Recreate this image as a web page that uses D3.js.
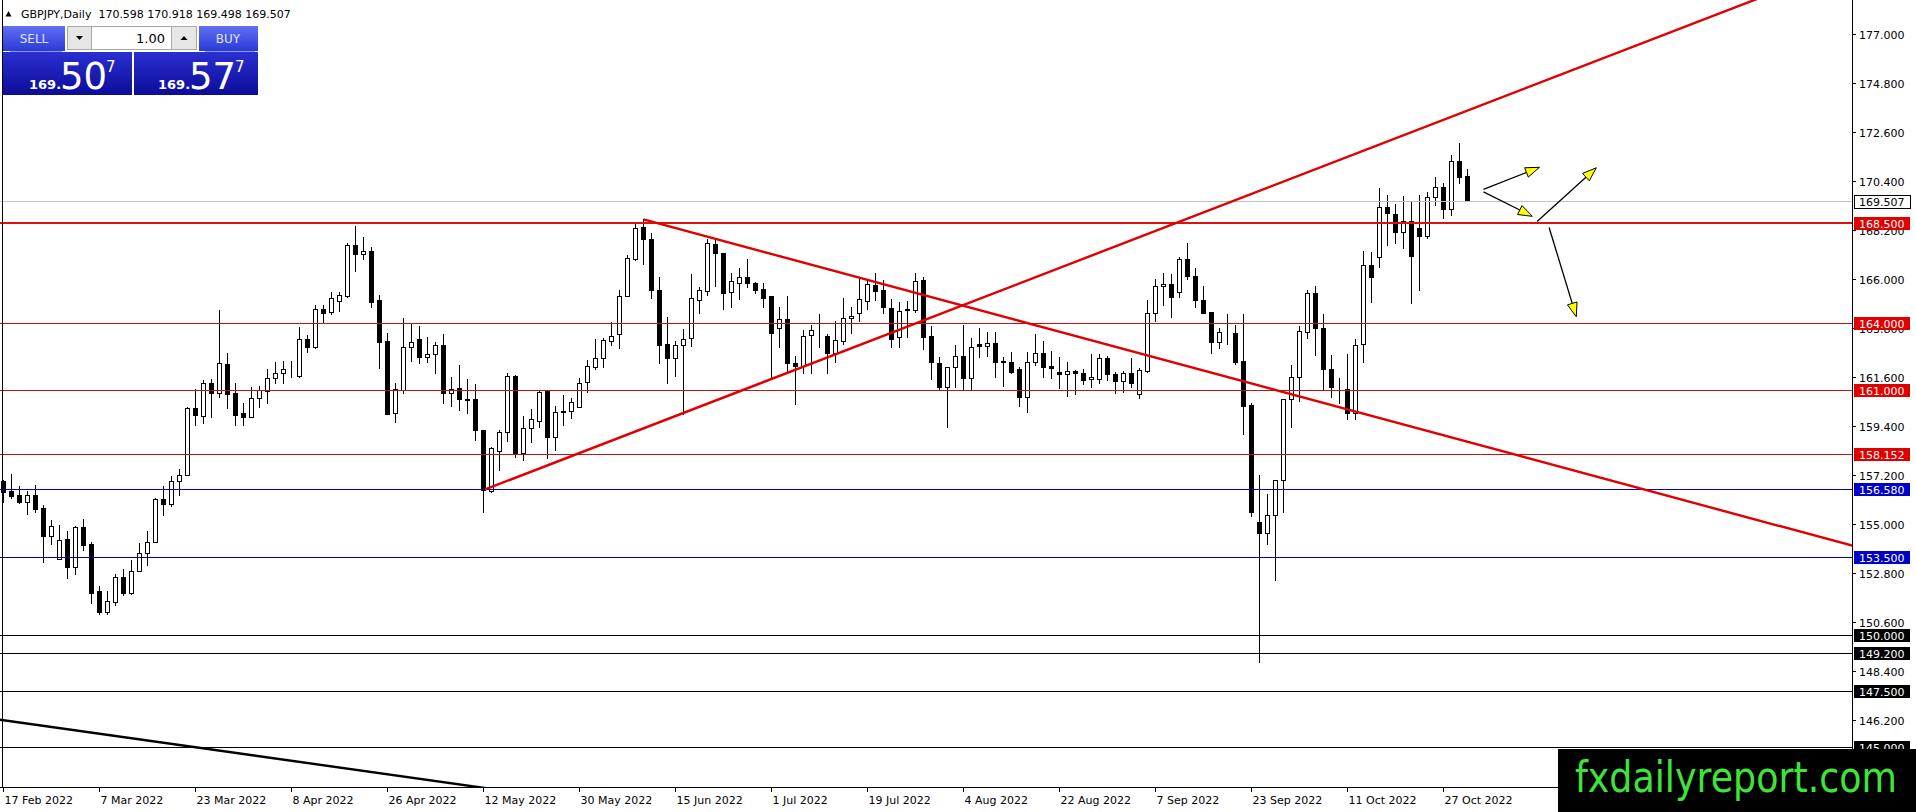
<!DOCTYPE html>
<html>
<head>
<meta charset="utf-8">
<script src="https://cdn.jsdelivr.net/npm/d3@7"></script>
<style>
html, body { margin: 0; padding: 0; background: #fff; }
svg { display: block; }
text { font-family: "DejaVu Sans", Verdana, sans-serif; }
</style>
</head>
<body>
<svg id="chart" width="1916" height="812"></svg>
<script>
// ---- data ----
const symbol = "GBPJPY,Daily";
const firstDay = new Date(2022, 1, 17);

const open = [156.91,156.46,156.31,155.99,156.27,155.70,154.47,153.40,154.31,153.08,154.85,154.08,151.96,151.06,151.49,152.59,151.90,152.90,153.67,154.19,
  156.11,155.90,156.90,157.21,160.18,159.85,161.30,160.88,162.17,160.85,159.98,159.80,160.63,160.98,161.52,161.75,161.99,161.64,163.28,162.92,
  164.62,164.50,164.98,165.24,167.51,167.09,167.24,165.04,163.20,159.95,161.00,162.95,163.29,162.50,162.60,163.02,160.85,161.08,160.58,160.58,
  159.23,156.48,158.26,159.10,161.63,158.16,159.28,159.59,160.96,158.90,160.03,160.04,160.22,161.37,162.05,162.42,163.22,163.50,165.21,166.88,
  168.30,167.77,165.49,163.05,162.45,163.02,163.32,165.04,165.46,167.56,167.14,165.39,165.79,166.09,165.82,165.52,165.22,163.77,164.17,162.23,
  162.08,163.47,163.38,163.43,162.65,163.20,164.22,164.44,165.01,165.72,165.49,164.67,163.40,164.60,164.59,165.94,163.43,162.20,161.15,162.02,
  162.54,161.52,163.07,162.99,163.10,162.27,162.27,161.93,160.67,162.27,162.65,162.08,161.82,161.70,161.87,161.75,161.49,161.48,162.45,161.72,
  161.42,161.78,160.81,161.87,164.44,165.67,165.76,165.42,166.87,166.12,165.04,164.52,163.14,163.54,163.55,162.30,160.33,155.09,154.59,155.37,
  156.96,160.58,161.60,163.62,165.34,163.77,161.93,161.03,161.03,159.95,163.05,166.61,166.96,169.20,168.90,168.11,168.59,168.26,167.93,169.65,
  170.13,169.11,171.30,170.598];
const high = [156.96,157.23,156.69,156.46,156.73,155.84,155.16,154.94,154.67,154.89,155.21,154.17,152.20,151.96,152.74,152.96,153.37,154.13,154.67,156.15,
  156.69,157.15,157.45,160.25,161.03,161.45,161.51,164.59,162.68,161.30,160.43,161.15,161.20,161.93,162.24,162.32,162.32,163.81,163.47,164.82,
  164.82,165.42,165.42,167.59,168.36,167.86,167.44,165.27,163.55,161.34,164.22,163.96,163.87,163.37,163.14,163.50,161.60,162.12,161.49,161.27,
  159.23,158.46,159.23,161.78,161.67,159.83,160.15,160.96,160.96,160.28,160.78,160.63,161.52,162.35,163.29,163.35,164.07,165.49,167.06,168.51,
  168.66,168.04,166.06,164.26,163.22,163.74,166.21,165.61,167.77,167.77,167.17,166.24,166.46,166.87,165.85,165.79,165.22,164.71,165.22,162.53,
  163.69,163.92,164.41,163.52,164.11,165.12,164.71,166.09,165.94,166.24,165.94,165.07,164.97,165.01,166.27,166.09,163.87,162.50,162.05,163.02,
  163.92,163.32,163.77,163.62,163.59,162.47,162.72,162.05,162.69,163.50,163.20,162.77,162.50,162.24,161.90,161.93,162.62,162.62,162.53,161.82,
  161.87,162.42,161.97,165.04,165.97,166.24,166.21,166.96,167.59,166.46,165.67,164.52,163.77,164.41,163.92,164.41,160.40,157.18,156.33,156.96,
  160.58,162.12,163.87,165.49,165.67,164.41,162.57,161.52,162.62,163.28,167.24,167.21,170.06,169.76,169.35,169.71,169.50,169.76,169.91,170.58,
  170.28,171.55,172.08,170.918];
const low = [155.99,156.17,155.94,155.45,155.54,153.29,154.08,153.40,152.57,152.75,153.80,151.42,150.97,150.93,151.37,151.82,151.85,152.90,153.17,154.16,
  155.40,155.81,156.30,157.18,159.43,159.53,159.80,160.70,160.21,159.43,159.43,159.77,160.22,160.43,161.33,161.33,161.60,161.60,162.72,162.89,
  163.99,164.40,164.56,165.16,166.36,166.90,164.74,162.00,159.91,159.58,160.85,162.32,162.23,162.27,161.75,160.40,160.28,160.10,159.98,158.76,
  155.54,156.43,157.41,158.73,158.01,157.86,158.68,159.36,157.93,158.31,159.43,159.73,160.22,160.90,161.93,162.05,163.02,162.87,165.21,166.84,
  166.64,165.12,162.20,161.30,161.64,159.92,162.98,164.44,165.27,165.67,164.62,164.74,165.07,165.64,165.34,164.74,161.52,162.95,161.75,160.37,
  161.75,161.75,162.95,161.78,162.27,163.07,163.57,164.11,164.62,165.04,164.44,162.95,162.95,163.40,164.52,162.83,161.48,161.00,159.35,161.15,
  161.07,161.07,162.50,162.53,161.60,161.18,161.75,160.30,160.03,162.12,161.60,161.55,161.11,160.75,160.81,161.26,161.15,161.33,161.45,160.85,
  160.93,161.12,160.63,161.82,164.11,164.82,164.26,165.16,165.97,164.71,164.44,162.68,162.87,163.07,162.17,159.05,155.34,148.80,154.11,152.47,
  155.54,159.35,160.52,163.36,162.57,161.03,160.70,160.40,159.68,159.68,162.27,164.97,166.51,167.51,167.59,167.36,164.92,165.49,167.81,169.31,
  168.71,168.86,170.31,169.498];
const close = [156.43,156.25,155.99,156.27,155.67,154.46,154.88,154.29,153.08,154.85,154.05,151.90,151.05,151.51,152.59,151.90,152.90,153.67,154.20,156.11,
  155.90,156.94,157.21,160.18,159.88,161.30,160.88,162.20,160.84,159.89,159.80,160.64,161.00,161.52,161.75,161.96,162.00,163.28,162.92,164.62,
  164.47,165.12,165.25,167.51,167.11,167.23,164.97,163.17,159.94,161.03,162.93,163.14,162.50,162.62,163.02,160.85,161.03,160.58,160.56,159.20,
  156.51,158.38,159.10,161.63,158.16,159.28,159.68,160.93,158.90,160.03,160.08,160.48,161.33,162.08,162.42,163.25,163.41,165.21,166.91,168.26,
  167.77,165.49,163.02,162.45,163.02,163.28,165.12,165.49,167.59,167.14,165.37,165.91,166.09,165.79,165.49,165.15,163.55,164.17,162.23,162.08,
  163.44,163.69,163.40,162.65,163.25,164.22,164.32,165.07,165.76,165.46,164.74,163.28,164.55,164.62,165.91,163.40,162.27,161.15,162.02,162.54,
  161.52,162.92,162.99,163.10,162.27,162.29,161.82,160.67,162.27,162.65,162.05,161.97,161.70,161.87,161.75,161.45,161.57,162.42,161.70,161.42,
  161.78,161.33,161.90,164.44,165.67,165.76,165.16,166.87,166.12,165.04,164.47,163.17,163.59,163.55,162.27,160.30,155.54,154.59,155.37,156.96,
  160.58,161.57,163.65,165.34,163.77,161.93,161.12,161.04,159.95,163.02,166.61,166.06,169.20,168.93,168.11,168.59,167.03,167.93,169.65,170.13,
  169.11,171.30,170.55,169.507];

const priceTicks = [177.0, 174.8, 172.6, 170.4, 168.2, 166.0, 163.8, 161.6, 159.4, 157.2, 155.0, 152.8, 150.6, 148.4, 146.2];
const labelEvery = 12;

const bidPrice = 169.507;
const askPrice = 169.577;
const lotSize = "1.00";

const redLevels = [168.5, 164.0, 161.0, 158.152];
const blueLevels = [156.58, 153.5];
const blackLevels = [150.0, 149.2, 147.5, 145.0];

// trend lines as [bar index, price] anchor pairs
const upTrend = [[60.2, 156.54], [174.0, 172.30]];
const downTrend = [[80.0, 168.66], [177.3, 159.23]];
const oldTrend = [[0.0, 146.18], [60.3, 143.13]];

// hand drawn arrows: tail and head as [bar index, price]
const arrowTails = [[185.0, 170.01], [185.0, 169.90], [191.7, 168.57], [193.2, 168.30]];
const arrowHeads = [[192.0, 171.00], [191.1, 168.80], [199.1, 170.98], [196.6, 164.29]];

// ---- layout ----
const plotR = 1852, plotB = 788;

const dates = d3.timeDays(firstDay, new Date(2022, 10, 2)).filter(d => d.getDay() % 6 !== 0).slice(0, open.length);
const fmtDate = d3.timeFormat("%-d %b %Y");
const f3 = d3.format(".3f");

const x = d3.scaleLinear().domain([0, open.length - 1]).range([3.5, 3.5 + 8 * (open.length - 1)]);
const y = d3.scaleLinear().domain([145, 168.5]).range([746.5, 223]);

const svg = d3.select("#chart");
const defs = svg.append("defs");
defs.append("clipPath").attr("id", "plotClip")
  .append("rect").attr("x", 0).attr("y", 0).attr("width", plotR).attr("height", plotB);

const btnGrad = defs.append("linearGradient").attr("id", "btnBlue").attr("x1", 0).attr("y1", 0).attr("x2", 0).attr("y2", 1);
btnGrad.append("stop").attr("offset", "0%").attr("stop-color", "#6070f4");
btnGrad.append("stop").attr("offset", "100%").attr("stop-color", "#2c3ad6");
const boxGrad = defs.append("linearGradient").attr("id", "boxBlue").attr("x1", 0).attr("y1", 0).attr("x2", 0).attr("y2", 1);
boxGrad.append("stop").attr("offset", "0%").attr("stop-color", "#2a30d0");
boxGrad.append("stop").attr("offset", "100%").attr("stop-color", "#0c0c98");

const plot = svg.append("g").attr("clip-path", "url(#plotClip)");

// candles
const bars = d3.range(open.length).map(i => ({ i, o: open[i], h: high[i], l: low[i], c: close[i] }));
const cg = plot.append("g").attr("shape-rendering", "crispEdges");
cg.selectAll("line").data(bars).join("line")
  .attr("x1", d => x(d.i)).attr("x2", d => x(d.i))
  .attr("y1", d => Math.round(y(d.h))).attr("y2", d => Math.round(y(d.l)) + 1)
  .attr("stroke", "#000");
cg.selectAll("rect").data(bars).join("rect")
  .each(function(d) {
    const r = d3.select(this);
    if (d.c >= d.o) {
      const t = Math.round(y(d.c)) + 0.5, b = Math.round(y(d.o)) + 0.5;
      r.attr("x", x(d.i) - 2).attr("width", 4).attr("y", t).attr("height", Math.max(0, b - t))
        .attr("fill", "#fff").attr("stroke", "#000");
    } else {
      const t = Math.round(y(d.o)), b = Math.round(y(d.c)) + 1;
      r.attr("x", x(d.i) - 2.5).attr("width", 5).attr("y", t).attr("height", Math.max(1, b - t))
        .attr("fill", "#000");
    }
  });

// horizontal levels
const lg = plot.append("g").attr("shape-rendering", "crispEdges");
function hline(p, color, w) {
  const yy = w === 2 ? Math.round(y(p)) : Math.round(y(p)) + 0.5;
  lg.append("line").attr("x1", 0).attr("x2", plotR).attr("y1", yy).attr("y2", yy)
    .attr("stroke", color).attr("stroke-width", w);
}
hline(bidPrice, "#c0c0c0", 1);
redLevels.forEach((p, k) => hline(p, k === 0 ? "#e01010" : "#cc1010", k === 0 ? 2 : 1));
blueLevels.forEach(p => hline(p, "#0000c8", 1));
blackLevels.forEach(p => hline(p, "#000", 1));

// trend lines extended as rays to the right
function ray(pts, color, extendLeft) {
  const [[i1, p1], [i2, p2]] = pts;
  const s = (p2 - p1) / (i2 - i1);
  const a = extendLeft ? -10 : i1, b = 260;
  plot.append("line")
    .attr("x1", x(a)).attr("y1", y(p1 + s * (a - i1)))
    .attr("x2", x(b)).attr("y2", y(p1 + s * (b - i1)))
    .attr("stroke", color).attr("stroke-width", 2.4);
}
ray(upTrend, "#e00000", false);
ray(downTrend, "#e00000", false);
ray(oldTrend, "#000", true);

// arrows
const ag = svg.append("g");
arrowTails.forEach((t, k) => {
  const h = arrowHeads[k];
  const x1 = x(t[0]), y1 = y(t[1]), x2 = x(h[0]), y2 = y(h[1]);
  const ang = Math.atan2(y2 - y1, x2 - x1), len = 14, hw = 5;
  const bx = x2 - len * Math.cos(ang), by = y2 - len * Math.sin(ang);
  ag.append("line").attr("x1", x1).attr("y1", y1).attr("x2", bx).attr("y2", by)
    .attr("stroke", "#000").attr("stroke-width", 1.3);
  ag.append("path")
    .attr("d", `M${x2},${y2}L${bx + hw * Math.sin(ang)},${by - hw * Math.cos(ang)}L${bx - hw * Math.sin(ang)},${by + hw * Math.cos(ang)}Z`)
    .attr("fill", "#ffff00").attr("stroke", "#000").attr("stroke-width", 1);
});

// frame
const fg = svg.append("g").attr("shape-rendering", "crispEdges");
fg.append("line").attr("x1", 2.5).attr("x2", 2.5).attr("y1", 0).attr("y2", plotB).attr("stroke", "#000");
fg.append("line").attr("x1", plotR + 0.5).attr("x2", plotR + 0.5).attr("y1", 0).attr("y2", plotB).attr("stroke", "#000");
fg.append("line").attr("x1", 0).attr("x2", plotR + 1).attr("y1", plotB - 0.5).attr("y2", plotB - 0.5).attr("stroke", "#000");

// price axis
const pa = svg.append("g");
priceTicks.forEach(p => {
  const yy = Math.round(y(p)) + 0.5;
  pa.append("line").attr("x1", plotR).attr("x2", plotR + 4).attr("y1", yy).attr("y2", yy)
    .attr("stroke", "#000").attr("shape-rendering", "crispEdges");
  pa.append("text").attr("x", 1859).attr("y", yy + 4).attr("font-size", 11).attr("fill", "#000").text(f3(p));
});

function tag(p, bg, fg, border) {
  const yy = Math.round(y(p));
  pa.append("rect").attr("x", 1854).attr("y", yy - 6).attr("width", 56).attr("height", 13)
    .attr("fill", bg).attr("stroke", border || "none").attr("shape-rendering", "crispEdges");
  pa.append("text").attr("x", 1859).attr("y", yy + 4.5).attr("font-size", 11).attr("fill", fg).text(f3(p));
}
tag(bidPrice, "#fff", "#000", "#000");
redLevels.forEach(p => tag(p, "#e00000", "#fff"));
blueLevels.forEach(p => tag(p, "#0000c8", "#fff"));
blackLevels.forEach(p => tag(p, "#000", "#fff"));

// time axis
const ta = svg.append("g");
dates.forEach((d, i) => {
  if (i % labelEvery !== 0) return;
  ta.append("line").attr("x1", x(i)).attr("x2", x(i)).attr("y1", plotB).attr("y2", plotB + 4)
    .attr("stroke", "#000").attr("shape-rendering", "crispEdges");
  ta.append("text").attr("x", x(i) + 1).attr("y", 804).attr("font-size", 11).attr("fill", "#000").text(fmtDate(d));
});

// header
const last = open.length - 1;
svg.append("path").attr("d", "M5.5,16.5L11.5,16.5L8.5,11Z").attr("fill", "#000");
svg.append("text").attr("x", 21).attr("y", 18).attr("font-size", 11).attr("fill", "#000")
  .attr("xml:space", "preserve")
  .text(`${symbol}  ${f3(open[last])} ${f3(high[last])} ${f3(low[last])} ${f3(close[last])}`);

// one-click trading panel
const sans = "'Liberation Sans', Arial, sans-serif";
const pn = svg.append("g");
pn.append("rect").attr("x", 3).attr("y", 26).attr("width", 62).attr("height", 25).attr("fill", "url(#btnBlue)");
pn.append("rect").attr("x", 199).attr("y", 26).attr("width", 59).attr("height", 25).attr("fill", "url(#btnBlue)");
pn.append("text").attr("x", 34).attr("y", 43).attr("text-anchor", "middle").attr("font-size", 12)
  .attr("font-family", sans).attr("fill", "#dde4ff").text("SELL");
pn.append("text").attr("x", 228).attr("y", 43).attr("text-anchor", "middle").attr("font-size", 12)
  .attr("font-family", sans).attr("fill", "#dde4ff").text("BUY");
pn.append("rect").attr("x", 67.5).attr("y", 26.5).attr("width", 24).attr("height", 23)
  .attr("fill", "#e6e6e6").attr("stroke", "#a8a8a8");
pn.append("rect").attr("x", 91.5).attr("y", 26.5).attr("width", 80).attr("height", 23)
  .attr("fill", "#fff").attr("stroke", "#a8a8a8");
pn.append("rect").attr("x", 171.5).attr("y", 26.5).attr("width", 25).attr("height", 23)
  .attr("fill", "#e6e6e6").attr("stroke", "#a8a8a8");
pn.append("path").attr("d", "M76,36L83,36L79.5,40Z").attr("fill", "#000");
pn.append("path").attr("d", "M180.5,40L187.5,40L184,36Z").attr("fill", "#000");
pn.append("text").attr("x", 165).attr("y", 43).attr("text-anchor", "end").attr("font-size", 13)
  .attr("font-family", sans).attr("fill", "#000").text(lotSize);
pn.append("line").attr("x1", 10).attr("x2", 62).attr("y1", 51.5).attr("y2", 51.5).attr("stroke", "#8898f8");
pn.append("line").attr("x1", 205).attr("x2", 255).attr("y1", 51.5).attr("y2", 51.5).attr("stroke", "#8898f8");

function priceBox(px, w, price, off) {
  pn.append("rect").attr("x", px).attr("y", 52).attr("width", w).attr("height", 43).attr("fill", "url(#boxBlue)");
  const s = f3(price);
  const big = s.split(".")[0], frac = s.split(".")[1];
  const t = pn.append("g").attr("fill", "#fff").attr("font-family", sans);
  t.append("text").attr("x", px + off).attr("y", 89).attr("font-size", 13).attr("font-weight", "bold").text(big + ".");
  t.append("text").attr("x", px + off + 31).attr("y", 89).attr("font-size", 37).text(frac.slice(0, 2));
  t.append("text").attr("x", px + off + 77).attr("y", 72).attr("font-size", 15).text(frac.slice(2));
}
priceBox(3, 129, bidPrice, 26);
priceBox(134, 124, askPrice, 24);

// watermark
svg.append("rect").attr("x", 1558).attr("y", 749).attr("width", 358).attr("height", 63).attr("fill", "#000");
svg.append("text").attr("x", 1575).attr("y", 792).attr("font-size", 42)
  .attr("font-family", sans).attr("fill", "#3ee43a")
  .attr("textLength", 322).attr("lengthAdjust", "spacingAndGlyphs")
  .text("fxdailyreport.com");
</script>
</body>
</html>
